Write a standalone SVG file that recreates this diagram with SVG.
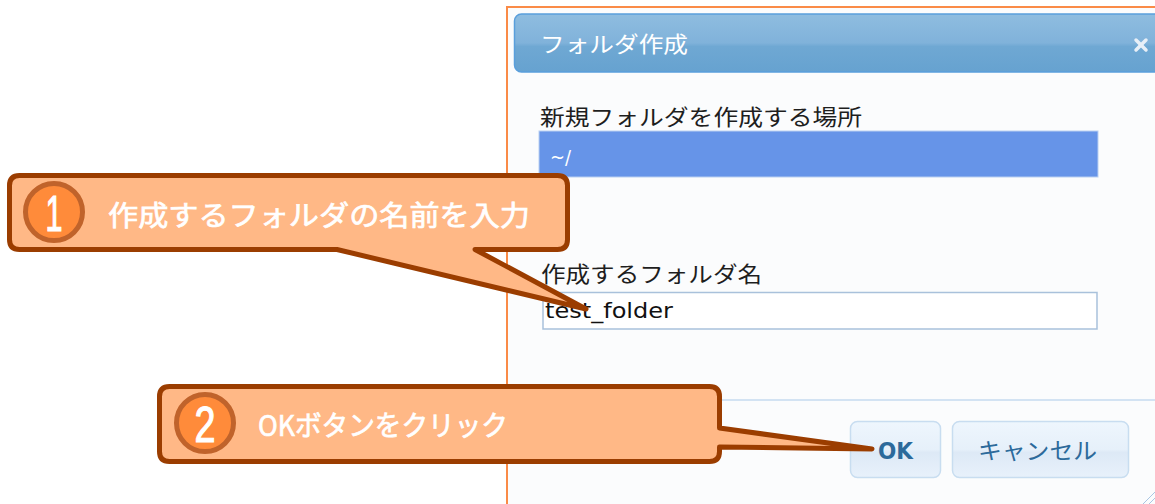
<svg xmlns="http://www.w3.org/2000/svg" width="1155" height="504" viewBox="0 0 1155 504">
  <defs>
    <linearGradient id="titleGrad" x1="0" y1="0" x2="0" y2="1">
      <stop offset="0" stop-color="#8fbde0"/>
      <stop offset="0.5" stop-color="#80b2da"/>
      <stop offset="0.56" stop-color="#6fa8d3"/>
      <stop offset="1" stop-color="#66a2d0"/>
    </linearGradient>
    <linearGradient id="btnGrad" x1="0" y1="0" x2="0" y2="1">
      <stop offset="0" stop-color="#eef6fd"/>
      <stop offset="0.5" stop-color="#e6f0fa"/>
      <stop offset="0.55" stop-color="#dde9f6"/>
      <stop offset="1" stop-color="#e8f1fb"/>
    </linearGradient>
    <style>
      .label { font-family: "Noto Sans CJK JP", "Noto Sans", sans-serif; font-size: 22px; fill: #1e1e1e; }
      .callout { fill: #ffb886; stroke: #9b3d00; stroke-width: 5; stroke-linejoin: round; }
      .badge { fill: #ff8b3a; stroke: #c0632b; stroke-width: 5; }
      .badge-num { font-family: "Liberation Sans", "Noto Sans", sans-serif; font-size: 50px; fill: #ffffff; stroke: #ffffff; stroke-width: 1.2; text-anchor: middle; }
      .callout-text { font-family: "Noto Sans CJK JP", "Noto Sans", sans-serif; font-size: 28px; fill: #ffffff; stroke: #ffffff; stroke-width: 0.7; }
      .btn { fill: url(#btnGrad); stroke: #c8ddf0; stroke-width: 1.5; }
      .btn-text { fill: #2c6a9b; }
    </style>
  </defs>

  <rect x="0" y="0" width="1155" height="504" fill="#ffffff"/>

  <g id="dialog">
    <rect x="507" y="7" width="660" height="510" fill="#fbfcfd" stroke="#fa8b47" stroke-width="2"/>
    <line x1="507" y1="400" x2="1155" y2="400" stroke="#c6dbef" stroke-width="1.5"/>
    <g id="resize-handle" stroke="#a9c6e3" stroke-width="1">
      <line x1="1143" y1="504" x2="1155" y2="492"/>
      <line x1="1149" y1="504" x2="1155" y2="498"/>
    </g>
  </g>

  <g id="title-bar">
    <rect x="514.5" y="14" width="660" height="58" rx="7" fill="url(#titleGrad)" stroke="#5a9fdc" stroke-width="1.5"/>
    <text x="540" y="52" font-family="'Noto Sans CJK JP', 'Noto Sans', sans-serif" font-size="22" fill="#ffffff" textLength="148" lengthAdjust="spacingAndGlyphs">フォルダ作成</text>
    <g id="close" stroke="#e8eff7" stroke-width="3.5" stroke-linecap="round">
      <line x1="1136" y1="40" x2="1146" y2="50"/>
      <line x1="1146" y1="40" x2="1136" y2="50"/>
    </g>
  </g>

  <g id="label-location">
    <text class="label" x="540" y="125" textLength="322" lengthAdjust="spacingAndGlyphs">新規フォルダを作成する場所</text>
  </g>

  <g id="field-location">
    <rect x="539" y="131" width="559" height="46" fill="#6694e8" stroke="#b9cff2" stroke-width="1"/>
    <text x="550" y="164" font-family="'DejaVu Sans', sans-serif" font-size="19" fill="#ffffff" textLength="21" lengthAdjust="spacingAndGlyphs">~/</text>
  </g>

  <g id="label-name">
    <text class="label" x="541" y="282" textLength="221" lengthAdjust="spacingAndGlyphs">作成するフォルダ名</text>
  </g>

  <g id="field-name">
    <rect x="543" y="292.5" width="554" height="36.5" fill="#ffffff" stroke="#a9c1db" stroke-width="1.5"/>
    <text x="545" y="318" font-family="'DejaVu Sans', sans-serif" font-size="22" fill="#111111" textLength="128" lengthAdjust="spacingAndGlyphs">test_folder</text>
  </g>

  <g id="btn-ok">
    <rect class="btn" x="850.5" y="421.5" width="90" height="56" rx="7"/>
    <text class="btn-text" x="878" y="459" font-family="'DejaVu Sans', sans-serif" font-weight="bold" font-size="23" textLength="35" lengthAdjust="spacingAndGlyphs">OK</text>
  </g>

  <g id="btn-cancel">
    <rect class="btn" x="952.5" y="421.5" width="176" height="56" rx="7"/>
    <text class="btn-text" x="978" y="459" font-family="'Noto Sans CJK JP', 'Noto Sans', sans-serif" font-size="23" textLength="119" lengthAdjust="spacingAndGlyphs">キャンセル</text>
  </g>

  <g id="connectors">
    <!-- callout pointers are drawn as part of each callout outline -->
  </g>

  <g id="callout-1">
    <path class="callout" d="M 20,175.5 H 557.5 Q 567.5,175.5 567.5,185.5 V 239.5 Q 567.5,249.5 557.5,249.5 H 475 L 586,309 L 337,249.5 H 19.5 Q 9.5,249.5 9.5,239.5 V 185.5 Q 9.5,175.5 19.5,175.5 Z"/>
    <circle class="badge" cx="54" cy="212" r="28.5"/>
    <text class="badge-num" x="54" y="231" textLength="17" lengthAdjust="spacingAndGlyphs">1</text>
    <text class="callout-text" x="108" y="226" textLength="422" lengthAdjust="spacingAndGlyphs">作成するフォルダの名前を入力</text>
  </g>

  <g id="callout-2">
    <path class="callout" d="M 169.5,386.5 H 709.5 Q 719.5,386.5 719.5,396.5 V 428 L 872,449 L 719.5,447 V 451.5 Q 719.5,461.5 709.5,461.5 H 169.5 Q 159.5,461.5 159.5,451.5 V 396.5 Q 159.5,386.5 169.5,386.5 Z"/>
    <circle class="badge" cx="205" cy="423" r="28.5"/>
    <text class="badge-num" x="205" y="442" textLength="21" lengthAdjust="spacingAndGlyphs">2</text>
    <text class="callout-text" x="258" y="436" textLength="250" lengthAdjust="spacingAndGlyphs">OKボタンをクリック</text>
  </g>
</svg>
